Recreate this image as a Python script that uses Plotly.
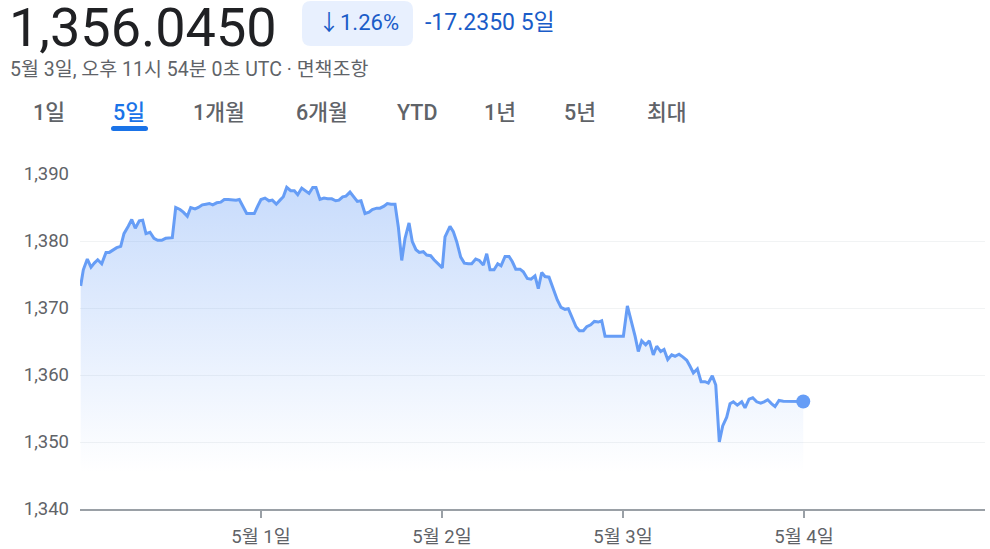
import pandas as pd
import plotly.graph_objects as go

# ---- data (hours since 2024-04-30 00:00 UTC, USD/KRW price) ----
start_time = "2024-04-30 00:00"
hours = [0.09, 0.44, 0.97, 1.46, 1.90, 2.35, 2.88, 3.45, 3.89, 4.42, 4.87, 5.40, 5.83, 6.40, 6.86,
         7.33, 7.86, 8.31, 8.75, 9.28, 9.81, 10.30, 10.83, 11.36, 11.80, 12.24, 12.69, 13.26, 13.70,
         14.23, 14.68, 15.25, 15.69, 16.22, 16.71, 17.15, 17.60, 18.13, 18.66, 19.13, 19.66, 20.20,
         20.69, 21.12, 21.65, 22.10, 22.64, 23.11, 23.56, 24.00, 24.53, 25.06, 25.50, 26.03, 26.52,
         26.96, 27.41, 27.94, 28.42, 28.87, 29.40, 29.84, 30.37, 30.86, 31.29, 31.82, 32.35, 32.85,
         33.38, 33.91, 34.34, 34.83, 35.27, 35.80, 36.24, 36.77, 37.26, 37.79, 38.32, 38.76, 39.34,
         39.78, 40.31, 40.75, 41.24, 41.77, 42.21, 42.66, 43.10, 43.63, 44.06, 44.55, 44.99, 45.52,
         45.97, 46.50, 46.94, 47.51, 48.04, 48.40, 49.06, 49.50, 49.95, 50.48, 50.96, 51.49, 51.94,
         52.47, 52.95, 53.48, 53.93, 54.37, 54.90, 55.39, 55.83, 56.36, 56.89, 57.33, 57.78, 58.35,
         58.78, 59.31, 59.80, 60.33, 60.77, 61.22, 61.66, 62.19, 62.76, 63.29, 63.78, 64.31, 64.75,
         65.28, 65.77, 66.21, 66.74, 67.19, 67.72, 68.20, 68.73, 69.18, 69.62, 70.28, 71.17, 72.05,
         72.58, 73.07, 73.60, 74.03, 74.48, 75.01, 75.49, 76.02, 76.47, 77.00, 77.44, 77.93, 78.46,
         78.90, 79.43, 79.92, 80.45, 80.89, 81.33, 81.86, 82.35, 82.88, 83.31, 83.84, 84.30, 84.77,
         85.22, 85.75, 86.19, 86.63, 87.16, 87.74, 88.18, 88.71, 89.20, 89.73, 90.26, 90.70, 91.19,
         91.72, 92.16, 92.69, 93.26, 95.90]
prices = [1373.3, 1375.7, 1377.3, 1376.1, 1376.7, 1377.2, 1376.6, 1378.3, 1378.3, 1378.7, 1379.0,
          1379.2, 1381.1, 1382.2, 1383.2, 1381.9, 1383.0, 1383.1, 1381.1, 1381.3, 1380.4, 1380.1,
          1380.1, 1380.4, 1380.5, 1380.5, 1385.0, 1384.7, 1384.3, 1383.7, 1385.0, 1384.8, 1385.0,
          1385.4, 1385.5, 1385.6, 1385.4, 1385.7, 1385.8, 1386.2, 1386.2, 1386.1, 1386.1, 1386.2,
          1385.0, 1384.1, 1384.1, 1384.1, 1385.2, 1386.2, 1386.4, 1386.0, 1386.1, 1385.5, 1386.1,
          1386.6, 1388.0, 1387.5, 1387.5, 1386.9, 1387.9, 1387.5, 1387.1, 1388.0, 1388.0, 1386.2,
          1386.4, 1386.3, 1386.3, 1386.0, 1386.1, 1386.6, 1386.7, 1387.3, 1386.6, 1385.9, 1386.0,
          1384.1, 1384.3, 1384.7, 1384.9, 1384.9, 1385.2, 1385.6, 1385.5, 1385.5, 1382.1, 1377.1,
          1380.4, 1382.7, 1379.9, 1378.7, 1378.3, 1378.4, 1377.9, 1377.8, 1377.2, 1376.6, 1376.0,
          1380.6, 1382.2, 1381.4, 1379.9, 1377.6, 1376.7, 1376.6, 1376.6, 1377.3, 1377.1, 1376.4,
          1378.1, 1375.7, 1375.7, 1376.6, 1376.3, 1377.7, 1377.7, 1376.9, 1375.8, 1375.8, 1375.4,
          1374.4, 1374.3, 1374.8, 1372.9, 1375.3, 1374.7, 1374.6, 1372.9, 1371.2, 1370.1, 1369.8,
          1369.9, 1368.6, 1367.2, 1366.6, 1366.6, 1367.2, 1367.5, 1368.0, 1367.9, 1368.1, 1365.8,
          1365.8, 1365.8, 1365.8, 1370.3, 1368.2, 1365.8, 1363.5, 1365.1, 1364.5, 1365.1, 1363.0,
          1364.3, 1363.5, 1363.8, 1362.3, 1363.0, 1362.8, 1363.1, 1362.7, 1362.2, 1361.3, 1360.3,
          1360.9, 1359.0, 1359.0, 1358.8, 1359.9, 1358.5, 1350.0, 1352.4, 1353.7, 1355.7, 1356.0,
          1355.5, 1356.0, 1355.1, 1356.4, 1356.6, 1356.0, 1355.8, 1356.0, 1356.3, 1355.7, 1355.3,
          1356.2, 1356.1, 1356.045]

tick_dates = ["2024-05-01", "2024-05-02", "2024-05-03", "2024-05-04"]
tick_labels = ["5월 1일", "5월 2일", "5월 3일", "5월 4일"]
y_ticks = [1340, 1350, 1360, 1370, 1380, 1390]
x_range = ["2024-04-30 00:00", "2024-05-05 00:00"]
y_range = [1340, 1390]
fill_floor = 1345.5

price_text = "1,356.0450"
change_pct = "↓1.26%"
change_abs = "-17.2350 5일"
subtitle = "5월 3일, 오후 11시 54분 0초 UTC · 면책조항"
tabs = ["1일", "5일", "1개월", "6개월", "YTD", "1년", "5년", "최대"]
tab_x = [49, 129, 219, 322, 417, 500, 580, 667]
active_tab = "5일"

# ---- figure ----
times = pd.Timestamp(start_time) + pd.to_timedelta(hours, unit="h")

W, H = 990, 549
ML, MR, MT, MB = 80, 5, 174, 40
PW, PH = W - ML - MR, H - MT - MB

def px(x):
    return (x - ML) / PW

def py(y):
    return (H - MB - y) / PH

LINE = "#669df6"
BLUE = "#1a5cc8"
GREY = "#5f6368"
FONT = "Roboto, 'Noto Sans CJK KR', sans-serif"

fig = go.Figure()
fig.add_trace(go.Scatter(x=[times[0], times[-1]], y=[fill_floor, fill_floor], mode="lines",
                         line=dict(width=0, color="rgba(0,0,0,0)"), hoverinfo="skip",
                         showlegend=False))
fig.add_trace(go.Scatter(
    x=times, y=prices, mode="lines", fill="tonexty",
    line=dict(color=LINE, width=3),
    fillgradient=dict(type="vertical", start=fill_floor, stop=1388,
                      colorscale=[[0, "rgba(102,157,246,0.0)"], [1, "rgba(102,157,246,0.36)"]]),
    hoverinfo="skip", showlegend=False))
fig.add_trace(go.Scatter(x=[times[-1]], y=[prices[-1]], mode="markers",
                         marker=dict(size=14, color=LINE), hoverinfo="skip", showlegend=False))

fig.update_layout(
    width=W, height=H, margin=dict(l=ML, r=MR, t=MT, b=MB),
    paper_bgcolor="white", plot_bgcolor="white",
    font=dict(family=FONT, color=GREY),
    xaxis=dict(range=x_range, type="date", tickvals=tick_dates, ticktext=tick_labels,
               ticks="outside", ticklen=7, tickwidth=1.5, tickcolor="#9aa0a6",
               showline=True, linecolor="#9aa0a6", linewidth=1.5, showgrid=False,
               tickfont=dict(size=18.5, color=GREY), ticklabelstandoff=3, fixedrange=True,
               automargin=False),
    yaxis=dict(range=y_range, tickvals=y_ticks, tickformat=",d", showgrid=True,
               gridcolor="#f1f3f4", gridwidth=1, zeroline=False, showline=False,
               tickfont=dict(size=18.5, color=GREY), ticklabelstandoff=10, fixedrange=True,
               automargin=False),
)

ann = []
ann.append(dict(text=price_text, x=px(7), y=py(27), xanchor="left", yanchor="middle",
                font=dict(size=54, color="#202124", family=FONT)))
ann.append(dict(text=change_pct, x=px(358), y=py(23), xanchor="center", yanchor="middle",
                font=dict(size=22, color=BLUE, family=FONT)))
ann.append(dict(text=change_abs, x=px(423), y=py(22), xanchor="left", yanchor="middle",
                font=dict(size=23, color=BLUE, family=FONT)))
ann.append(dict(text=subtitle, x=px(8), y=py(70), xanchor="left", yanchor="middle",
                font=dict(size=19.5, color=GREY, family=FONT)))
for t, x in zip(tabs, tab_x):
    ann.append(dict(text=t, x=px(x), y=py(112), xanchor="center", yanchor="middle",
                    font=dict(size=21.5, family=FONT, weight=500,
                              color="#1a73e8" if t == active_tab else GREY)))
for a in ann:
    a.update(xref="paper", yref="paper", showarrow=False)
fig.update_layout(annotations=ann)

# badge background (rounded rect in paper coords)
def rounded(x0, y0, x1, y1, r):
    rx, ry = r / PW, r / PH
    X0, X1 = px(x0), px(x1)
    Y0, Y1 = py(y1), py(y0)
    return (f"M {X0+rx},{Y0} L {X1-rx},{Y0} Q {X1},{Y0} {X1},{Y0+ry} "
            f"L {X1},{Y1-ry} Q {X1},{Y1} {X1-rx},{Y1} L {X0+rx},{Y1} "
            f"Q {X0},{Y1} {X0},{Y1-ry} L {X0},{Y0+ry} Q {X0},{Y0} {X0+rx},{Y0} Z")

fig.add_shape(type="path", path=rounded(302, 1, 413, 46, 9), xref="paper", yref="paper",
              fillcolor="#e8f0fe", line=dict(width=0), layer="below")
fig.add_shape(type="path", path=rounded(111, 126, 148, 131, 2.5), xref="paper", yref="paper",
              fillcolor="#1a73e8", line=dict(width=0))

fig.write_html("out.html", config=dict(displayModeBar=False, staticPlot=True),
               post_script="document.body.style.margin='0';")
